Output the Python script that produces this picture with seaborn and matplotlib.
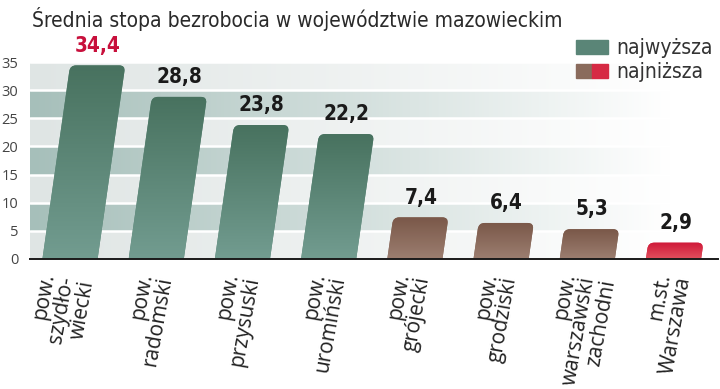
import numpy as np
import pandas as pd
import matplotlib
matplotlib.use("Agg")
import matplotlib.pyplot as plt
from matplotlib import font_manager
from matplotlib.font_manager import FontProperties
from matplotlib.patches import FancyBboxPatch, Patch
from matplotlib.transforms import Affine2D, ScaledTranslation
from matplotlib.colors import to_rgb
from matplotlib.legend_handler import HandlerTuple
import seaborn as sns

title = "Średnia stopa bezrobocia w województwie mazowieckim"
districts = ["pow.\nszydło-\nwiecki", "pow.\nradomski", "pow.\nprzysuski", "pow.\nuromiński",
             "pow.\ngrójecki", "pow.\ngrodziski", "pow.\nwarszawski\nzachodni", "m.st.\nWarszawa"]
rates = [34.4, 28.8, 23.8, 22.2, 7.4, 6.4, 5.3, 2.9]
kinds = ["high"] * 4 + ["low"] * 3 + ["min"]
legend_labels = ["najwyższa", "najniższa"]

# kolory: (góra, dół) gradientu słupka
grad = {"high": ("#48725f", "#729c90"),
        "low": ("#7a5849", "#9c7e70"),
        "min": ("#cf1838", "#e2505e")}
solid = {"high": "#5a8577", "low": "#8a6b5c", "min": "#d62a44"}


def find_font(patterns, fallback):
    files = [f.fname for f in font_manager.fontManager.ttflist]
    for pat in patterns:
        for fn in files:
            if fn.lower().endswith(pat.lower()):
                return FontProperties(fname=fn)
    return FontProperties(family=fallback)


narrow = find_font(["LiberationSansNarrow-Regular.ttf", "DejaVuSansCondensed.ttf"], "Liberation Sans")
narrow_bold = find_font(["LiberationSansNarrow-Bold.ttf", "DejaVuSansCondensed-Bold.ttf"], "Roboto")
narrow_bold.set_weight("bold")

names = {f.name for f in font_manager.fontManager.ttflist}
sans = "Open Sans" if "Open Sans" in names else "DejaVu Sans"

sns.set_style("white")
plt.rcParams["font.family"] = [sans, "DejaVu Sans"]

fig = plt.figure(figsize=(7.2, 3.89), dpi=100)
rend = fig.canvas.get_renderer()


def size_for(text, fp, target_px, size=16):
    tmp = fig.text(0, 0, text, fontproperties=fp, size=size)
    w = tmp.get_window_extent(rend).width
    tmp.remove()
    return size * target_px / w


ax = fig.add_axes([30 / 720, (389 - 259) / 389, 688 / 720, (259 - 62) / 389])

df = pd.DataFrame({"powiat": districts, "stopa": rates, "grupa": kinds})
sns.barplot(data=df, x="powiat", y="stopa", hue="grupa", palette=solid,
            width=0.64, dodge=False, legend=False, ax=ax, zorder=2)

xl = (-0.464, 7.516)
yl = (0, 35)
ax.set_xlim(xl)
ax.set_ylim(yl)

px_x = 688 / (xl[1] - xl[0])
px_y = (259 - 62) / (yl[1] - yl[0])
s = 0.143 * px_y / px_x  # pochylenie słupków
skew = Affine2D(np.array([[1, s, 0], [0, 1, 0], [0, 0, 1]]))
r = 6 / px_x

# tło: pasy z gradientem do bieli
dark = np.array([166, 191, 186]) / 255
light = np.array([223, 229, 228]) / 255
t = np.clip(np.linspace(0, 1, 400) / 0.93, 0, 1)
bg = np.zeros((7, 400, 3))
for i in range(7):
    c = dark if i % 2 else light
    bg[i] = c[None, :] * (1 - t[:, None]) + t[:, None]
ax.imshow(bg, extent=(xl[0], xl[1], 0, 35), origin="lower", aspect="auto",
          interpolation="nearest", zorder=0)
for y in range(5, 36, 5):
    ax.axhline(y, color="white", lw=1.8, zorder=1)

val_size = size_for("28,8", narrow_bold, 46)

for p in list(ax.patches):
    h = p.get_height()
    if not np.isfinite(h) or h == 0:
        continue
    x, w = p.get_x(), p.get_width()
    i = int(round(x + w / 2))
    k = kinds[i]
    p.set_visible(False)
    bar = FancyBboxPatch((x, -2), w, h + 2,
                         boxstyle=f"round,pad=0,rounding_size={r}",
                         mutation_aspect=px_x / px_y,
                         transform=skew + ax.transData,
                         facecolor=solid[k], edgecolor="none", zorder=2)
    ax.add_patch(bar)
    top, bot = np.array(to_rgb(grad[k][0])), np.array(to_rgb(grad[k][1]))
    f = np.linspace(0, 1, 64)[:, None]
    img = (bot * (1 - f) + top * f)[:, None, :]
    im = ax.imshow(img, extent=(x, x + w + s * h + 0.05, 0, h), origin="lower",
                   aspect="auto", interpolation="bilinear", zorder=2.5)
    im.set_clip_path(bar)
    ax.annotate(f"{rates[i]:.1f}".replace(".", ","), (x + w / 2 + s * h, h),
                xytext=(0, 7), textcoords="offset points", ha="center", va="bottom",
                fontproperties=narrow_bold, size=val_size,
                color="#c8103c" if i == 0 else "#1a1a1a")

ax.set_xlim(xl)
ax.set_ylim(yl)

ax.set_yticks(range(0, 36, 5))
ax.tick_params(axis="y", length=0, pad=8.5, labelsize=10.5, labelcolor="#444")
ax.set_xticks(range(len(districts)))
ax.set_xticklabels(districts, rotation=80, ha="center", va="top", multialignment="right",
                   fontsize=15, color="#222", linespacing=0.95)
ax.tick_params(axis="x", length=0, pad=9)
shift = ScaledTranslation(-0.08, 0, fig.dpi_scale_trans)
for lab in ax.get_xticklabels():
    lab.set_transform(lab.get_transform() + shift)

ax.set_xlabel("")
ax.set_ylabel("")
for side in ["top", "right", "left"]:
    ax.spines[side].set_visible(False)
ax.spines["bottom"].set_color("#1a1a1a")
ax.spines["bottom"].set_linewidth(1.4)
ax.spines["bottom"].set_zorder(4)

title_size = size_for(title, narrow, 533)
fig.text(32 / 720, 1 - 27 / 389, title, ha="left", va="baseline",
         fontproperties=narrow, size=title_size, color="#2a2a2a")

leg_size = size_for("najwyższa", narrow, 97)
leg_fp = narrow.copy()
leg_fp.set_size(leg_size)
handles = [Patch(color=solid["high"]), (Patch(color=solid["low"]), Patch(color=solid["min"]))]
fig.legend(handles, legend_labels, handler_map={tuple: HandlerTuple(ndivide=None, pad=0)},
           loc="upper left", bbox_to_anchor=(576 / 720, 1 - 38 / 389), frameon=False,
           prop=leg_fp, labelcolor="#333",
           handlelength=32 / (leg_size * 100 / 72), handleheight=0.65, handletextpad=0.4,
           labelspacing=0.2, borderpad=0, borderaxespad=0)

fig.savefig("out.png", dpi=100)
